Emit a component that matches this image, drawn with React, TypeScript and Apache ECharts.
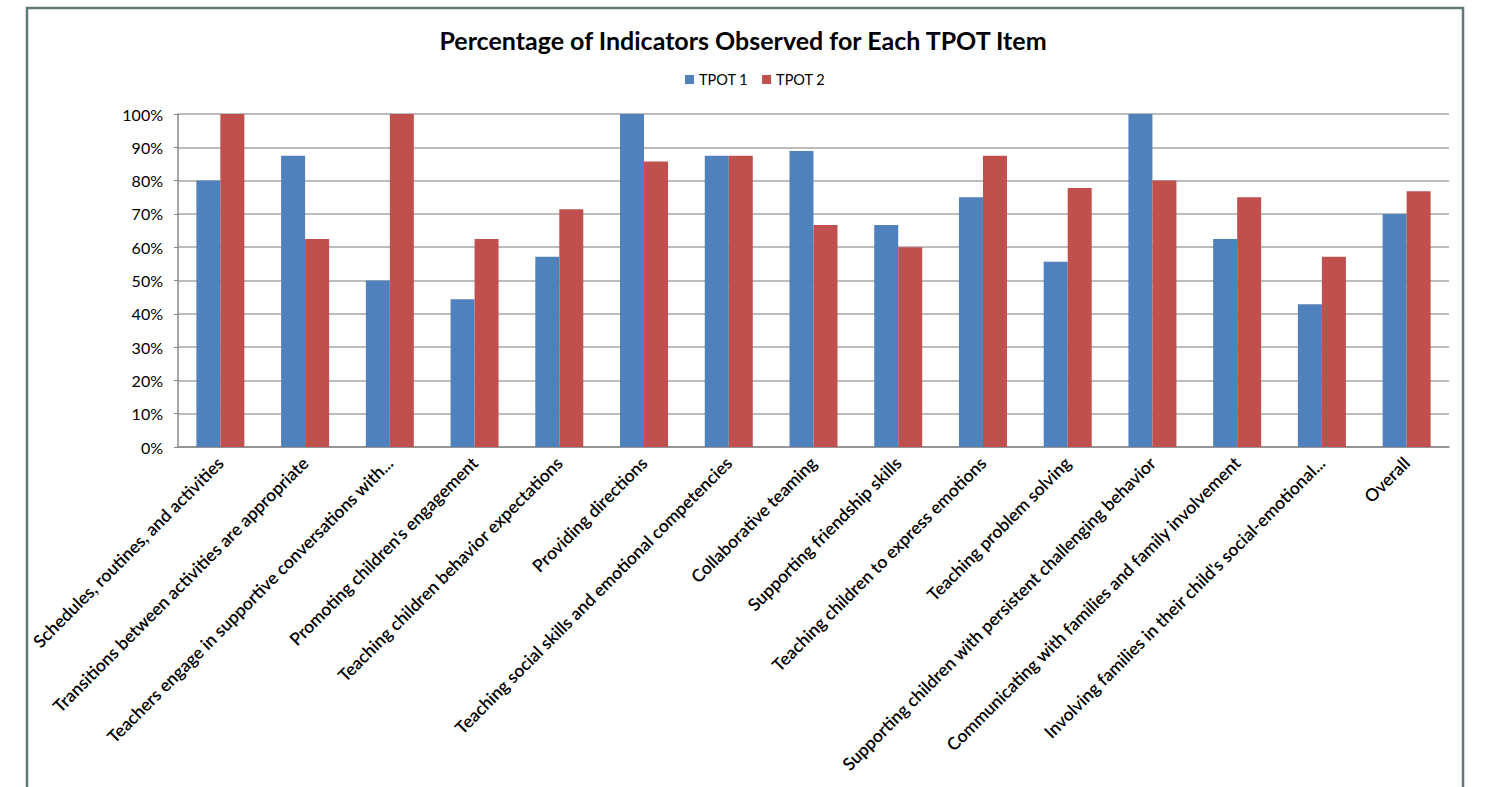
import React, { useEffect, useRef } from "react";
import * as echarts from "echarts";

const categories = [
  "Schedules, routines, and activities",
  "Transitions between activities are appropriate",
  "Teachers engage in supportive conversations with...",
  "Promoting children's engagement",
  "Teaching children behavior expectations",
  "Providing directions",
  "Teaching social skills and emotional competencies",
  "Collaborative teaming",
  "Supporting friendship skills",
  "Teaching children to express emotions",
  "Teaching problem solving",
  "Supporting children with persistent challenging behavior",
  "Communicating with families and family involvement",
  "Involving families in their child's social-emotional...",
  "Overall",
];

const tpot1 = [80, 87.5, 50, 44.4, 57.1, 100, 87.5, 88.9, 66.7, 75, 55.6, 100, 62.5, 42.9, 70];
const tpot2 = [100, 62.5, 100, 62.5, 71.4, 85.7, 87.5, 66.7, 60, 87.5, 77.8, 80, 75, 57.1, 76.8];

const seriesNames = ["TPOT 1", "TPOT 2"];
const titleText = "Percentage of Indicators Observed for Each TPOT Item";

const FONT = "Lato, 'Open Sans', sans-serif";

export default function App() {
  const ref = useRef<HTMLDivElement>(null);
  useEffect(() => {
    if (!ref.current) return;
    const chart = echarts.init(ref.current, undefined, { renderer: "svg" });
    chart.setOption({
      animation: false,
      backgroundColor: "#ffffff",
      textStyle: { fontFamily: FONT },
      title: {
        text: titleText,
        left: "center",
        top: 22,
        textStyle: { fontFamily: FONT, fontSize: 25, fontWeight: "bold", color: "#000" },
      },
      legend: {
        data: seriesNames,
        top: 67,
        left: 680,
        itemWidth: 9,
        itemHeight: 9,
        itemGap: 14,
        icon: "rect",
        textStyle: { fontFamily: FONT, fontSize: 14.5, color: "#000" },
      },
      grid: { left: 178, right: 37, top: 114, bottom: 340, containLabel: false },
      xAxis: {
        type: "category",
        data: categories,
        axisLine: { lineStyle: { color: "#888", width: 1.5 } },
        axisTick: { alignWithLabel: true, length: 5, lineStyle: { color: "#888" } },
        axisLabel: {
          rotate: 45,
          interval: 0,
          margin: 13,
          fontFamily: FONT,
          fontWeight: 600,
          fontSize: 17.5,
          color: "#000",
        },
      },
      yAxis: {
        type: "value",
        min: 0,
        max: 100,
        interval: 10,
        axisLine: { show: true, lineStyle: { color: "#888", width: 1.5 } },
        axisTick: { show: true, length: 4, lineStyle: { color: "#888" } },
        splitLine: { lineStyle: { color: "#a6a6a6", width: 1.5 } },
        axisLabel: {
          formatter: "{value}%",
          margin: 15,
          fontFamily: FONT,
          fontSize: 16,
          color: "#000",
        },
      },
      series: [
        {
          name: seriesNames[0],
          type: "bar",
          data: tpot1,
          barWidth: 24,
          barGap: "0%",
          itemStyle: { color: "#4F81BD" },
        },
        {
          name: seriesNames[1],
          type: "bar",
          data: tpot2,
          barWidth: 24,
          barGap: "0%",
          itemStyle: { color: "#C0504D" },
        },
      ],
      graphic: [
        {
          type: "rect",
          shape: { x: 27, y: 8, width: 1436, height: 820 },
          style: { fill: "none", stroke: "#5f7878", lineWidth: 2.5 },
          z: 100,
        },
      ],
    });
    return () => chart.dispose();
  }, []);
  return (
    <div
      ref={ref}
      style={{ position: "fixed", left: 0, top: 0, width: 1486, height: 787, background: "#fff" }}
    />
  );
}
